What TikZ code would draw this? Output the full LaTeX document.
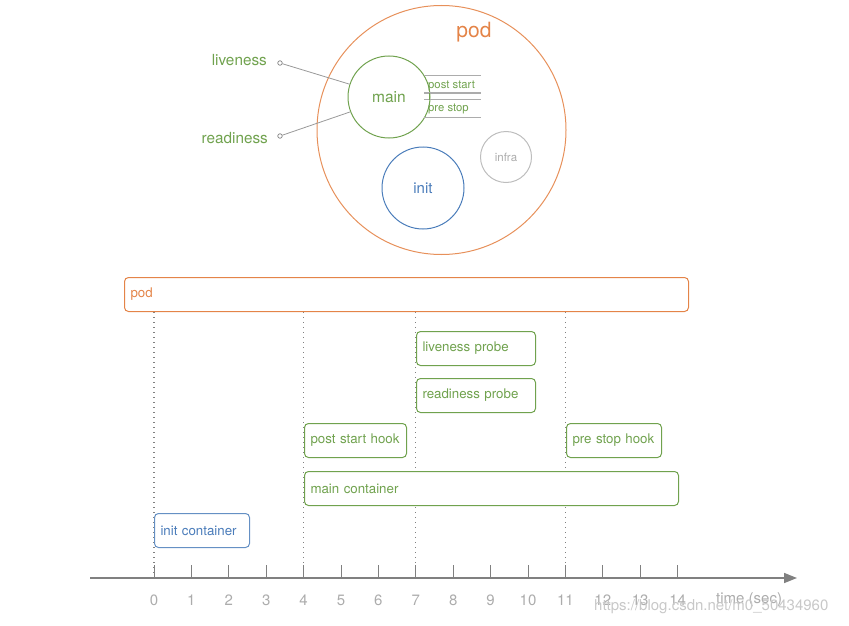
\documentclass[tikz,border=0pt]{standalone}
\usepackage{fontspec}
\setmainfont{TeX Gyre Heros}
\usetikzlibrary{arrows.meta,backgrounds}
\definecolor{podorange}{RGB}{228,132,72}
\definecolor{cgreen}{RGB}{112,162,78}
\definecolor{cblue}{RGB}{74,124,186}
\definecolor{lgray}{RGB}{172,172,172}
\definecolor{agray}{RGB}{128,128,128}
\definecolor{wmgray}{RGB}{200,200,200}
\tikzset{
  bar/.style={draw, fill=white, rounded corners=4pt, line width=1pt, anchor=north west,
    minimum height=34pt, inner xsep=6pt, inner ysep=0pt, align=left,
    font=\fontsize{13.3}{15}\selectfont},
  greenbar/.style={bar, draw=cgreen, text=cgreen},
  ring/.style={circle, draw, line width=1pt, inner sep=0pt},
  vline/.style={draw=agray, line width=1.3pt, dash pattern=on 1.4pt off 3.6pt},
  ticklbl/.style={text=lgray, font=\fontsize{15}{17}\selectfont},
  hookline/.style={draw=lgray, line width=1pt},
  probeline/.style={draw=agray!80, line width=0.8pt},
  probedot/.style={circle, draw=agray, line width=0.7pt, inner sep=0pt, minimum size=4.5pt, fill=white},
}
\begin{document}
\begin{tikzpicture}[x=1pt,y=-1pt]
\useasboundingbox (0,0) rectangle (849,626);

% ---------- top: pod circle ----------
\node[ring, draw=podorange!90, minimum size=249pt] (podc) at (441.5,130) {};
\node[text=podorange, font=\fontsize{21}{23}\selectfont] (podlbl) at (474,32) {pod};
\node[ring, draw=cgreen, minimum size=82pt, text=cgreen, font=\fontsize{15.5}{17}\selectfont] (mainc) at (389,97) {main};
\node[ring, draw=cblue, minimum size=82pt, text=cblue, font=\fontsize{15}{17}\selectfont] (initc) at (423,188) {init};
\node[ring, draw=lgray!80, minimum size=51pt, text=lgray, font=\fontsize{11.5}{13}\selectfont] (infrac) at (506,157) {infra};

% hook lines
\coordinate (h1a) at (424,76);  \coordinate (h1b) at (481,76);
\coordinate (h2a) at (424,93);  \coordinate (h2b) at (481,93);
\coordinate (h3a) at (424,99.5);\coordinate (h3b) at (481,99.5);
\coordinate (h4a) at (424,117); \coordinate (h4b) at (481,117);
\draw[hookline] (h1a) -- (h1b);
\draw[hookline] (h2a) -- (h2b);
\draw[hookline] (h3a) -- (h3b);
\draw[hookline] (h4a) -- (h4b);
\coordinate (tka) at (429.5,93); \coordinate (tkb) at (429.5,99.5);
\draw[cgreen, line width=0.8pt] (tka) -- (tkb);
\node[anchor=west, inner sep=0pt, text=cgreen, font=\fontsize{11.3}{13}\selectfont] (pslbl) at (428,85.5) {post start};
\node[anchor=west, inner sep=0pt, text=cgreen, font=\fontsize{11.3}{13}\selectfont] (prlbl) at (428,109) {pre stop};

% probes
\node[anchor=east, inner sep=0pt, text=cgreen, font=\fontsize{15.3}{17}\selectfont] (livlbl) at (267,60) {liveness};
\node[anchor=east, inner sep=0pt, text=cgreen, font=\fontsize{15.3}{17}\selectfont] (readlbl) at (268,138) {readiness};
\node[probedot] (livdot) at (280,63) {};
\node[probedot] (readdot) at (280,136) {};
\draw[probeline] (livdot) -- (mainc.162);
\draw[probeline] (readdot) -- (mainc.201);

% ---------- bottom: timeline ----------
\node[bar, draw=podorange, text=podorange, text width=552pt] (podbar) at (124,277) {pod};
\node[greenbar, text width=107pt] (liv) at (416,331) {\mbox{liveness probe}};
\node[greenbar, text width=107pt] (read) at (416,378) {\mbox{readiness probe}};
\node[greenbar, text width=90pt] (pshook) at (304,423) {\mbox{post start hook}};
\node[greenbar, text width=83pt] (prhook) at (566,423) {\mbox{pre stop hook}};
\node[greenbar, text width=362pt] (maincont) at (304,471) {main container};
\node[bar, draw=cblue!85, text=cblue, text width=83pt] (initcont) at (154,513) {\mbox{init container}};

% axis
\coordinate (axs) at (90,578);
\coordinate (axe) at (797,578);
\draw[agray, line width=1.6pt, -{Triangle[length=13pt,width=10pt]}] (axs) -- (axe);

\foreach \t in {0,...,14} {
  \coordinate (tk\t) at ({154+37.4*\t},578);
  \coordinate (tt\t) at ({154+37.4*\t},565);
  \draw[agray, line width=1pt] (tt\t) -- (tk\t);
  \node[ticklbl] (lb\t) at ({154+37.4*\t},600) {\t};
}
\begin{scope}[on background layer]
\foreach \t in {0,4,7,11} {
  \draw[vline] (tk\t |- podbar.south) -- (tk\t);
}
\end{scope}
\node[ticklbl, anchor=west, inner sep=0pt] (timelbl) at (716,600) {time (sec)};
\node[anchor=west, inner sep=0pt, text=wmgray, font=\fontsize{15}{17}\selectfont] (wm) at (594,607) {https://blog.csdn.net/m0\_50434960};
\end{tikzpicture}
\end{document}
